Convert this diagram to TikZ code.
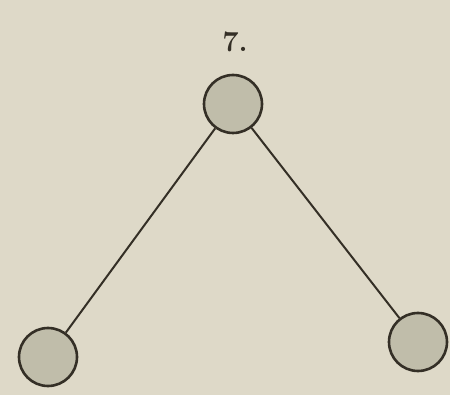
\documentclass[tikz,border=0pt]{standalone}
\definecolor{paper}{RGB}{222,217,200}
\definecolor{ink}{RGB}{52,47,38}
\definecolor{ballfill}{RGB}{192,189,170}
\tikzset{
  ball/.style={circle, draw=ink, line width=2.6pt, fill=ballfill, minimum size=58pt, inner sep=0pt},
  link/.style={draw=ink, line width=2pt},
  numlabel/.style={text=ink, font=\fontsize{29}{33}\selectfont\bfseries}
}
\begin{document}
\begin{tikzpicture}[x=1pt,y=-1pt]
\fill[paper] (0,0) rectangle (450,395);
\useasboundingbox (0,0) rectangle (450,395);
\node[ball] (top) at (233,104) {};
\node[ball] (left) at (48,357) {};
\node[ball] (right) at (418,342) {};
\node[numlabel] (lbl) at (235,42) {7.};
\draw[link] (top) -- (left);
\draw[link] (top) -- (right);
\end{tikzpicture}
\end{document}
